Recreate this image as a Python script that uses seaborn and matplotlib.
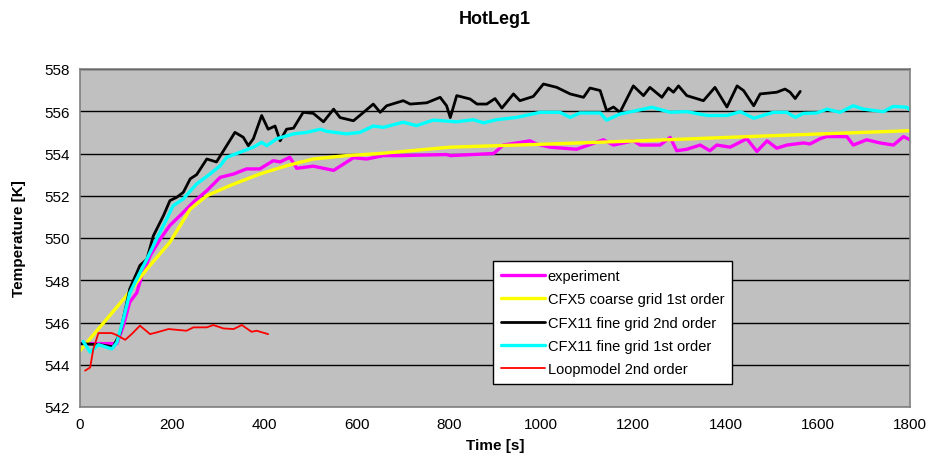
import numpy as np
import pandas as pd
import seaborn as sns
import matplotlib.pyplot as plt

# experiment
exp_t = [0, 72, 80, 94, 108, 123, 134, 152, 174, 195, 217, 246, 275, 304, 333, 361, 390, 419, 434, 455,
         470, 506, 550, 593, 622, 658, 694, 795, 803, 897, 918, 976, 990, 1019, 1077, 1135, 1157, 1200,
         1215, 1258, 1280, 1294, 1316, 1345, 1366, 1381, 1410, 1446, 1468, 1490, 1511, 1533, 1569, 1583,
         1605, 1619, 1663, 1677, 1706, 1735, 1764, 1786, 1800]
exp_T = [545.0, 545.0, 545.0, 545.85, 546.97, 547.4, 548.2, 549.16, 549.95, 550.6, 551.06, 551.7, 552.24,
         552.87, 553.03, 553.27, 553.27, 553.66, 553.6, 553.82, 553.3, 553.4, 553.2, 553.8, 553.74, 553.9,
         553.9, 553.95, 553.9, 554.0, 554.4, 554.6, 554.45, 554.3, 554.2, 554.65, 554.4, 554.6, 554.4, 554.4,
         554.76, 554.13, 554.2, 554.4, 554.13, 554.4, 554.3, 554.7, 554.1, 554.6, 554.25, 554.4, 554.5,
         554.45, 554.7, 554.8, 554.8, 554.4, 554.65, 554.5, 554.4, 554.8, 554.65]

# CFX5 coarse grid 1st order
cfx5_t = [0, 101, 145, 195, 217, 239, 275, 325, 390, 448, 506, 578, 651, 803, 1019, 1236, 1497, 1800]
cfx5_T = [544.67, 547.27, 548.53, 549.8, 550.58, 551.37, 552.0, 552.48, 553.03, 553.42, 553.74, 553.9,
          554.0, 554.3, 554.45, 554.62, 554.84, 555.08]

# CFX11 fine grid 2nd order
fine2_t = [0, 43, 72, 87, 108, 130, 145, 159, 181, 195, 210, 224, 239, 253, 275, 296, 318, 336, 354, 365,
           376, 394, 408, 423, 434, 448, 463, 484, 506, 528, 550, 564, 593, 615, 636, 651, 665, 701, 716,
           752, 781, 795, 803, 817, 846, 861, 882, 900, 915, 940, 954, 983, 1005, 1034, 1063, 1092, 1106,
           1128, 1142, 1157, 1171, 1200, 1222, 1236, 1262, 1276, 1287, 1298, 1316, 1352, 1377, 1403, 1425,
           1439, 1461, 1475, 1511, 1529, 1540, 1551, 1562]
fine2_T = [545.0, 544.95, 544.85, 545.5, 547.6, 548.7, 549.0, 550.1, 551.06, 551.77, 551.93, 552.16, 552.8,
           553.0, 553.74, 553.6, 554.37, 555.0, 554.77, 554.37, 554.7, 555.8, 555.15, 555.3, 554.6, 555.15,
           555.2, 555.95, 555.9, 555.5, 556.1, 555.7, 555.55, 555.95, 556.34, 555.95, 556.26, 556.5, 556.34,
           556.4, 556.66, 556.26, 555.7, 556.74, 556.58, 556.34, 556.34, 556.6, 556.15, 556.82, 556.5,
           556.7, 557.29, 557.13, 556.82, 556.66, 557.1, 556.98, 556.03, 556.2, 555.95, 557.2, 556.74,
           557.13, 556.66, 557.1, 556.9, 557.2, 556.74, 556.5, 557.13, 556.2, 557.2, 556.98, 556.26,
           556.82, 556.9, 557.05, 556.9, 556.6, 556.94]

# CFX11 fine grid 1st order
fine1_t = [7, 22, 40, 69, 80, 94, 108, 123, 145, 166, 188, 202, 224, 253, 282, 304, 318, 347, 376, 394,
           405, 427, 463, 492, 521, 535, 578, 607, 636, 658, 701, 730, 766, 817, 853, 875, 904, 947, 998,
           1041, 1063, 1084, 1128, 1142, 1171, 1207, 1240, 1280, 1316, 1360, 1403, 1432, 1461, 1504, 1533,
           1551, 1569, 1598, 1620, 1648, 1677, 1699, 1742, 1764, 1793, 1800]
fine1_T = [545.1, 544.6, 544.95, 544.75, 545.05, 546.16, 547.4, 548.06, 549.0, 549.95, 550.9, 551.53,
           551.85, 552.56, 553.03, 553.42, 553.82, 554.06, 554.3, 554.53, 554.37, 554.7, 554.93, 555.0,
           555.15, 555.05, 554.93, 555.0, 555.3, 555.24, 555.48, 555.32, 555.58, 555.5, 555.6, 555.45,
           555.6, 555.71, 555.95, 555.95, 555.71, 555.92, 555.92, 555.58, 555.87, 556.03, 556.19, 555.95,
           555.98, 555.8, 555.8, 555.98, 555.67, 555.95, 555.95, 555.71, 555.9, 555.92, 556.1, 555.95,
           556.26, 556.1, 555.98, 556.23, 556.19, 556.07]

# Loopmodel 2nd order
loop_t = [11, 22, 29, 40, 69, 80, 98, 112, 130, 152, 166, 192, 231, 246, 275, 289, 311, 333, 351, 372,
          383, 408]
loop_T = [543.72, 543.87, 544.75, 545.5, 545.5, 545.4, 545.18, 545.45, 545.85, 545.45, 545.53, 545.69,
          545.61, 545.77, 545.77, 545.88, 545.72, 545.69, 545.88, 545.56, 545.61, 545.45]

series = [
    ("experiment", exp_t, exp_T, "#FF00FF", 2.4),
    ("CFX5 coarse grid 1st order", cfx5_t, cfx5_T, "#FFFF00", 2.4),
    ("CFX11 fine grid 2nd order", fine2_t, fine2_T, "black", 2.0),
    ("CFX11 fine grid 1st order", fine1_t, fine1_T, "#00FFFF", 2.4),
    ("Loopmodel 2nd order", loop_t, loop_T, "#FF0000", 1.3),
]

sns.set_style("white")
plt.rcParams['font.family'] = ['Liberation Sans', 'DejaVu Sans']
plt.rcParams.update({"text.color": "black", "axes.labelcolor": "black",
                     "xtick.color": "black", "ytick.color": "black"})

fig = plt.figure(figsize=(9.31, 4.77), dpi=100)
ax = fig.add_axes([80 / 931, 1 - 408 / 477, 830 / 931, 338 / 477])
ax.set_facecolor("#C0C0C0")

for name, t, T, col, lw in series:
    df = pd.DataFrame({"t": t, "T": T})
    sns.lineplot(data=df, x="t", y="T", color=col, linewidth=lw, label=name,
                 estimator=None, sort=False, ax=ax)

ax.set_xlim(0, 1800)
ax.set_ylim(542, 558)
ax.set_xticks(np.arange(0, 1801, 200))
ax.set_yticks(np.arange(542, 559, 2))
ax.yaxis.grid(True, color="black", linewidth=1)
ax.xaxis.grid(False)
ax.set_axisbelow(True)
for s in ax.spines.values():
    s.set_color("#808080")
    s.set_linewidth(1.2)
ax.tick_params(axis="both", direction="out", length=4, width=1, color="black", labelsize=11)

ax.set_title("HotLeg1", fontsize=13, fontweight="bold", pad=33)
ax.set_xlabel("Time [s]", fontsize=11, fontweight="bold", labelpad=5)
ax.set_ylabel("Temperature [K]", fontsize=11, fontweight="bold", labelpad=13)

leg = ax.legend(loc="upper left", bbox_to_anchor=(413 / 830, (408 - 262) / 338), frameon=True,
                borderaxespad=0, fancybox=False, fontsize=10.5, handlelength=3.0, handletextpad=0.2,
                labelspacing=0.64, borderpad=0.55, edgecolor="black", framealpha=1)
leg.get_frame().set_linewidth(1)

fig.savefig("out.png", dpi=100)
